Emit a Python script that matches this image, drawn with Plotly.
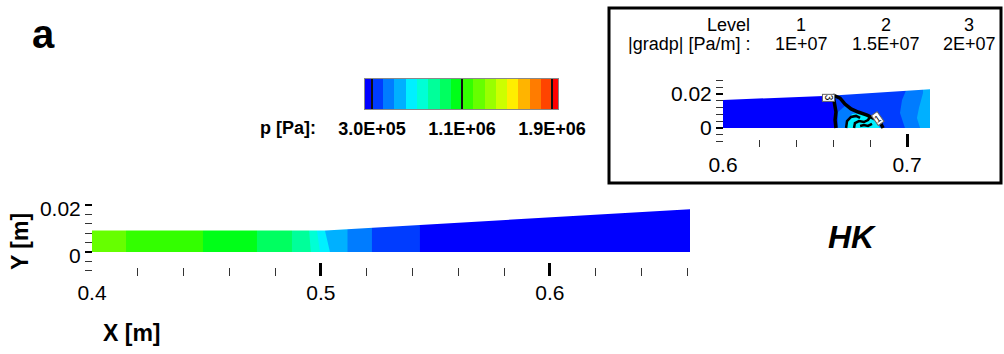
import bisect
import plotly.graph_objects as go

W, H = 1004, 354
FONT = "Liberation Sans, Arial, sans-serif"

# ---------------- colour map (pressure bands, Pa) ----------------
p_levels = [3.0e5, 4.0e5, 5.0e5, 6.0e5, 7.0e5, 8.0e5, 9.0e5, 1.0e6, 1.1e6,
            1.2e6, 1.3e6, 1.4e6, 1.5e6, 1.6e6, 1.7e6, 1.8e6, 1.9e6]
band_colors = ["#0000ff", "#003cff", "#007cff", "#00b0ff", "#00f0ff", "#00ffd5",
               "#00ff9a", "#00ff60", "#00ff18", "#33ff00", "#66ff00", "#99ff00",
               "#ccff00", "#ffee00", "#ffb400", "#ff7c00", "#ff4400", "#ff0000"]
cb_min, cb_max = 2.38e5, 1.953e6
cb_tick_vals = [3.0e5, 1.1e6, 1.9e6]
cb_tick_text = ["3.0E+05", "1.1E+06", "1.9E+06"]

# ---------------- main plot data ----------------
main_edge_x_bottom = [0.4, 0.41485, 0.44847, 0.47205, 0.48734, 0.4956, 0.49956,
                      0.50393, 0.5116, 0.52227, 0.54323]
main_edge_x_top = [0.4, 0.41485, 0.44847, 0.47205, 0.48734, 0.4948, 0.49825,
                   0.50175, 0.5116, 0.52227, 0.54323]
main_edge_top_y = 0.0092
main_band_p = [1.25e6, 1.15e6, 1.05e6, 9.5e5, 8.5e5, 7.5e5, 6.5e5, 5.5e5,
               4.5e5, 3.5e5, 2.7e5]
main_wall_x = [0.4, 0.502, 0.6612]
main_wall_y = [0.0092, 0.0092, 0.0182]
main_x_end = 0.6612
main_xtick_vals = [0.4, 0.5, 0.6]
main_xtick_text = ["0.4", "0.5", "0.6"]
main_ytick_vals = [0.0, 0.02]
main_ytick_text = ["0", "0.02"]

# ---------------- inset data ----------------
ins_x_end = 0.7125
ins_wall_x = [0.6, 0.658, 0.7125]
ins_wall_y = [0.0165, 0.019, 0.0235]
ins_base_p = 2.7e5
ins_regions = [
    # (pressure, x list, y list)
    (3.5e5, [0.6598, 0.6598, 0.6614, 0.6609, 0.6614, 0.7125, 0.7125],
            [0.025, 0.0194, 0.0094, 0.0047, 0.0, 0.0, 0.025]),
    (4.5e5, [0.6625, 0.6625, 0.6663, 0.6701, 0.6772, 0.6826, 0.6864, 0.6870],
            [0.0, 0.0094, 0.0129, 0.0100, 0.0082, 0.0059, 0.0018, 0.0]),
    (6.5e5, [0.6669, 0.6679, 0.6701, 0.6745, 0.6788, 0.6832, 0.6853],
            [0.0, 0.0047, 0.0082, 0.0088, 0.0071, 0.0041, 0.0]),
    (4.5e5, [0.7, 0.7, 0.6973, 0.6962, 0.6978, 0.6989, 0.7125, 0.7125],
            [0.025, 0.0235, 0.0165, 0.0088, 0.0035, 0.0, 0.0, 0.025]),
    (5.5e5, [0.7087, 0.7087, 0.7065, 0.7054, 0.7071, 0.7125, 0.7125],
            [0.025, 0.0206, 0.0118, 0.0059, 0.0, 0.0, 0.025]),
]
ins_lines = [
    # (width, x list, y list)
    (3.5, [0.6598, 0.6614, 0.6609, 0.6614], [0.0194, 0.0094, 0.0047, 0.0]),
    (3.5, [0.6598, 0.6636, 0.6663, 0.6696, 0.6734, 0.6783, 0.6826],
          [0.0194, 0.0176, 0.0141, 0.0112, 0.0094, 0.0076, 0.0053]),
    (3.5, [0.6853, 0.6864, 0.6870], [0.0035, 0.0012, 0.0]),
    (2.5, [0.6669, 0.6674, 0.6696, 0.6723, 0.6745], [0.0, 0.0041, 0.0065, 0.0071, 0.0059]),
    (2.5, [0.6712, 0.6717, 0.6739, 0.6766, 0.6788, 0.6799],
          [0.0, 0.0029, 0.0041, 0.0035, 0.0047, 0.0065]),
    (2.5, [0.6745, 0.6766, 0.6788, 0.6810], [0.0012, 0.0018, 0.0012, 0.0024]),
]
ins_labels = [("3", 0.6571, 0.0177, 90), ("1", 0.6842, 0.0053, -35)]
ins_xtick_vals = [0.6, 0.7]
ins_xtick_text = ["0.6", "0.7"]
ins_ytick_vals = [0.0, 0.02]
ins_ytick_text = ["0", "0.02"]
level_ids = ["1", "2", "3"]
level_vals = ["1E+07", "1.5E+07", "2E+07"]


def color_of(p):
    return band_colors[bisect.bisect_right(p_levels, p)]


def px(x):
    return x / W


def py(y):
    return 1 - y / H


fig = go.Figure()

# ---- main bands (each drawn from its left edge to the end; later overwrite) ----
M_TOP = 0.0195   # just above the wall, below the axis range top
for xb, xt, p in zip(main_edge_x_bottom, main_edge_x_top, main_band_p):
    fig.add_trace(go.Scatter(
        x=[xb, main_x_end, main_x_end, xt, xt, xb],
        y=[0, 0, M_TOP, M_TOP, main_edge_top_y, 0],
        fill="toself", mode="lines", line=dict(width=0),
        fillcolor=color_of(p), hoverinfo="skip", showlegend=False,
        xaxis="x", yaxis="y"))
# mask above wall
fig.add_trace(go.Scatter(
    x=[0.39] + main_wall_x + [main_x_end + 0.01, main_x_end + 0.01, 0.39],
    y=[main_wall_y[0]] + main_wall_y + [main_wall_y[-1], 0.04, 0.04],
    fill="toself", mode="lines", line=dict(width=0), fillcolor="white",
    hoverinfo="skip", showlegend=False, xaxis="x", yaxis="y"))

# ---- inset field ----
I_TOP = 0.025
fig.add_trace(go.Scatter(
    x=[0.6, ins_x_end, ins_x_end, 0.6, 0.6], y=[0, 0, I_TOP, I_TOP, 0],
    fill="toself", mode="lines", line=dict(width=0), fillcolor=color_of(ins_base_p),
    hoverinfo="skip", showlegend=False, xaxis="x2", yaxis="y2"))
for p, xs, ys in ins_regions:
    fig.add_trace(go.Scatter(
        x=xs, y=ys, fill="toself", mode="lines", line=dict(width=0),
        fillcolor=color_of(p), hoverinfo="skip", showlegend=False,
        xaxis="x2", yaxis="y2"))
fig.add_trace(go.Scatter(
    x=[0.59] + ins_wall_x + [ins_x_end + 0.01, ins_x_end + 0.01, 0.59],
    y=[ins_wall_y[0]] + ins_wall_y + [ins_wall_y[-1], 0.04, 0.04],
    fill="toself", mode="lines", line=dict(width=0), fillcolor="white",
    hoverinfo="skip", showlegend=False, xaxis="x2", yaxis="y2"))
for w, xs, ys in ins_lines:
    fig.add_trace(go.Scatter(
        x=xs, y=ys, mode="lines", line=dict(color="black", width=w),
        hoverinfo="skip", showlegend=False, xaxis="x2", yaxis="y2"))

# ---- colour bar (own axes) ----
n_b = len(band_colors)
cscale = []
for i, c in enumerate(band_colors):
    cscale.append([i / n_b, c])
    cscale.append([(i + 1) / n_b, c])
fig.add_trace(go.Heatmap(
    x=[cb_min] + p_levels + [cb_max], y=[0, 1], z=[list(range(n_b))],
    colorscale=cscale, zmin=-0.5, zmax=n_b - 0.5, showscale=False,
    hoverinfo="skip", xaxis="x3", yaxis="y3"))

tickfont = dict(family=FONT, size=21, color="black")

# main axes geometry (pixels)
m_y_range = [-0.0082, 0.0203]
m_ypx0, m_ypx1 = 252 + 0.0082 * 2350, 252 - 0.0203 * 2350
i_y_range = [-0.0082, 0.0285]
i_ypx0, i_ypx1 = 128 + 0.0082 * 1700, 128 - 0.0285 * 1700

fig.update_layout(
    template="none",
    width=W, height=H, margin=dict(l=0, r=0, t=0, b=0, pad=0, autoexpand=False),
    paper_bgcolor="white", plot_bgcolor="rgba(0,0,0,0)",
    showlegend=False,
    xaxis=dict(domain=[px(92), px(690)], range=[0.4, main_x_end], anchor="free",
               position=py(276), showgrid=False, zeroline=False, showline=False,
               automargin=False,
               tickvals=main_xtick_vals, ticktext=main_xtick_text,
               ticks="inside", ticklen=13, tickwidth=2.5, tickcolor="black",
               tickfont=tickfont, ticklabelstandoff=2,
               minor=dict(dtick=0.02, tick0=0.4, ticks="inside", ticklen=8,
                          tickwidth=1.3, tickcolor="#333", showgrid=False)),
    yaxis=dict(domain=[py(m_ypx0), py(m_ypx1)], range=m_y_range, anchor="free",
               position=px(92), showgrid=False, zeroline=False, showline=False,
               automargin=False,
               tickvals=main_ytick_vals, ticktext=main_ytick_text,
               ticks="outside", ticklen=7, tickwidth=2, tickcolor="black",
               tickfont=tickfont, ticklabelshift=4,
               minor=dict(dtick=0.004, tick0=0, ticks="outside", ticklen=7,
                          tickwidth=1.3, tickcolor="#333", showgrid=False)),
    xaxis2=dict(domain=[px(723), px(930)], range=[0.6, ins_x_end], anchor="free",
                position=py(147), showgrid=False, zeroline=False, showline=False,
                automargin=False,
                tickvals=ins_xtick_vals, ticktext=ins_xtick_text,
                ticks="inside", ticklen=13, tickwidth=2.5, tickcolor="black",
                tickfont=tickfont, ticklabelstandoff=3,
                minor=dict(dtick=0.02, tick0=0.6, ticks="inside", ticklen=7,
                           tickwidth=1.3, tickcolor="#333", showgrid=False)),
    yaxis2=dict(domain=[py(i_ypx0), py(i_ypx1)], range=i_y_range, anchor="free",
                position=px(723), showgrid=False, zeroline=False, showline=False,
                automargin=False,
                tickvals=ins_ytick_vals, ticktext=ins_ytick_text,
                ticks="outside", ticklen=7, tickwidth=2, tickcolor="black",
                tickfont=tickfont,
                minor=dict(dtick=0.004, tick0=0, ticks="outside", ticklen=7,
                           tickwidth=1.3, tickcolor="#333", showgrid=False)),
    xaxis3=dict(domain=[px(365), px(558)], range=[cb_min, cb_max], anchor="y3",
                showgrid=False, zeroline=False, showline=True, mirror=True,
                linecolor="#888", linewidth=1, automargin=False,
                tickvals=cb_tick_vals, ticktext=cb_tick_text,
                ticks="inside", ticklen=30, tickwidth=1.5, tickcolor="#111",
                tickfont=dict(family=FONT, size=18, color="black", weight="bold"),
                ticklabelstandoff=3),
    yaxis3=dict(domain=[py(109), py(79)], range=[0, 1], anchor="x3",
                showgrid=False, zeroline=False, showline=True, mirror=True,
                linecolor="#888", linewidth=1, showticklabels=False, ticks="",
                automargin=False),
)

# inset frame
fig.add_shape(type="rect", xref="paper", yref="paper",
              x0=px(609), x1=px(1001), y0=py(183), y1=py(8),
              line=dict(color="black", width=3), fillcolor="white", layer="below")

ann = []
def text(t, x, y, size, bold=False, italic=False, xanchor="center", angle=0):
    s = t
    if bold:
        s = "<b>" + s + "</b>"
    if italic:
        s = "<i>" + s + "</i>"
    ann.append(dict(text=s, x=px(x), y=py(y), xref="paper", yref="paper",
                    xanchor=xanchor, yanchor="middle", showarrow=False,
                    textangle=angle, font=dict(family=FONT, size=size, color="black")))

text("a", 43, 34, 40, bold=True)
text("Y [m]", 20, 242, 23, bold=True, angle=-90)
text("X [m]", 132, 333, 23, bold=True)
text("HK", 852, 237, 32, bold=True, italic=True)
text("p [Pa]:", 318, 128, 18, bold=True, xanchor="right")
text("Level", 752, 25, 18, xanchor="right")
text("|gradp| [Pa/m] :", 752, 44, 18, xanchor="right")
for lid, lv, cx in zip(level_ids, level_vals, [801, 886, 969]):
    text(lid, cx, 25, 18)
    text(lv, cx, 44, 18)
fig.update_layout(annotations=ann)

for t, lx, ly, ang in ins_labels:
    fig.add_annotation(text=t, x=lx, y=ly, xref="x2", yref="y2", showarrow=False,
                       textangle=ang, bgcolor="white", bordercolor="#666",
                       borderwidth=1, borderpad=0,
                       font=dict(family=FONT, size=10, color="black"))

fig.write_html("out.html", config={"displayModeBar": False})
